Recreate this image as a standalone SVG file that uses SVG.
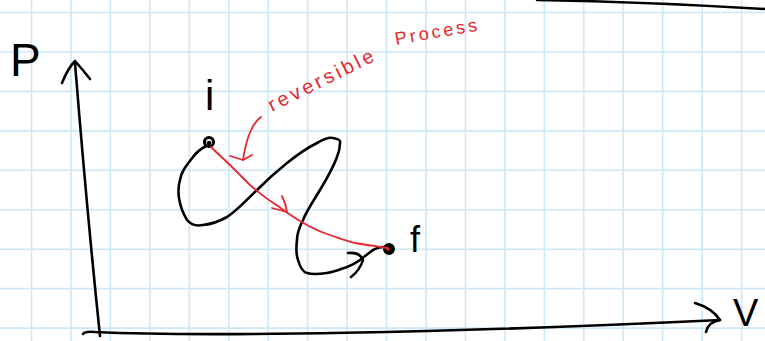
<svg xmlns="http://www.w3.org/2000/svg" width="765" height="341" viewBox="0 0 765 341">
  <style>
    .grid { stroke: #cfe8f8; stroke-width: 1.6; fill: none; }
    .ink { stroke: #000; stroke-width: 2.6; fill: none; stroke-linecap: round; stroke-linejoin: round; }
    .red { stroke: #e8262d; stroke-width: 1.8; fill: none; stroke-linecap: round; stroke-linejoin: round; }
    .lbl { font-family: "Liberation Sans", Arial, sans-serif; fill: #000; }
    .rlbl { font-family: "Liberation Sans", Arial, sans-serif; fill: #e8262d; }
  </style>
  <rect width="765" height="341" fill="#ffffff"/>
  <g id="grid" class="grid">
    <path d="M31.5,0V341M70.95,0V341M110.4,0V341M149.85,0V341M189.3,0V341M228.75,0V341M268.2,0V341M307.65,0V341M347.1,0V341M386.55,0V341M426,0V341M465.45,0V341M504.9,0V341M544.35,0V341M583.8,0V341M623.25,0V341M662.7,0V341M702.15,0V341M741.6,0V341"/>
    <path d="M0,12.5H765M0,51.95H765M0,91.4H765M0,130.85H765M0,170.3H765M0,209.75H765M0,249.2H765M0,288.65H765M0,328.1H765"/>
  </g>
  <g id="axes">
    <path class="ink" d="M537,0 Q650,2 765,9"/>
    <path class="ink" d="M75,63 C82,150 92,260 100,336"/>
    <path class="ink" d="M62,83 Q68,68 75,61 Q83,70 90,79"/>
    <path class="ink" d="M83,334 Q85,331 95,332 C200,337 450,333 720,320"/>
    <path class="ink" d="M695,303 Q712,308 720,320 Q708,322 706,332"/>
    <text class="lbl" x="10" y="76" font-size="46">P</text>
    <text class="lbl" x="733" y="326" font-size="38">V</text>
  </g>
  <g id="node-i">
    <circle cx="209" cy="142" r="4.5" fill="none" stroke="#000" stroke-width="3.2"/>
    <circle cx="209" cy="143" r="2.2" fill="#000"/>
    <text class="lbl" x="205" y="110" font-size="42">i</text>
  </g>
  <g id="node-f">
    <circle cx="389" cy="249" r="5" fill="#000" stroke="#000" stroke-width="2"/>
    <circle cx="388" cy="249" r="1.8" fill="#e8262d"/>
    <text class="lbl" x="410" y="252" font-size="36">f</text>
  </g>
  <g id="connectors">
    <path class="ink" d="M206,146 C199,150 195,154 193,157 C186,166 181,172 180,180 C177,190 178,205 187,220 C192,226 198,226 203,225 C212,224 220,221 227,217 C240,208 248,198 257,190 C267,180 277,171 287,163 C297,155 307,148 317,143 C324,139 329,137 333,138 C338,139 341,140 340,143 C340,148 339,152 337,157 C333,168 326,180 320,190 C314,200 307,210 303,220 C299,228 297,234 297,240 C296,248 296,254 298,260 C300,267 303,272 307,273 C313,275 320,274 327,273 C334,272 341,269 347,267 C352,265 356,263 360,260 C365,256 369,253 373,250 C377,248 380,247 383,247"/>
    <path class="ink" d="M348,253 Q360,252 363,260 Q360,270 351,277"/>
    <path class="red" d="M211,147 C218,154 225,160 232,167 C238,173 244,179 250,185 C257,191 264,197 272,202 C281,208 290,215 300,221 C310,227 320,232 330,235 C339,238 347,241 355,243 C366,245 376,246 387,248"/>
    <path class="red" d="M282,196 Q286,204 287,212 L272,208"/>
    <path class="red" d="M261,117 C251,124 246,140 243,160"/>
    <path class="red" d="M230,156 L243,160 L252,155"/>
  </g>
  <g id="label">
    <text class="rlbl" x="272" y="112" font-size="20" letter-spacing="3.2" transform="rotate(-26.5 272 112)">reversible</text>
    <text class="rlbl" x="396" y="45" font-size="18" letter-spacing="3" transform="rotate(-10 396 45)">Process</text>
  </g>
</svg>
